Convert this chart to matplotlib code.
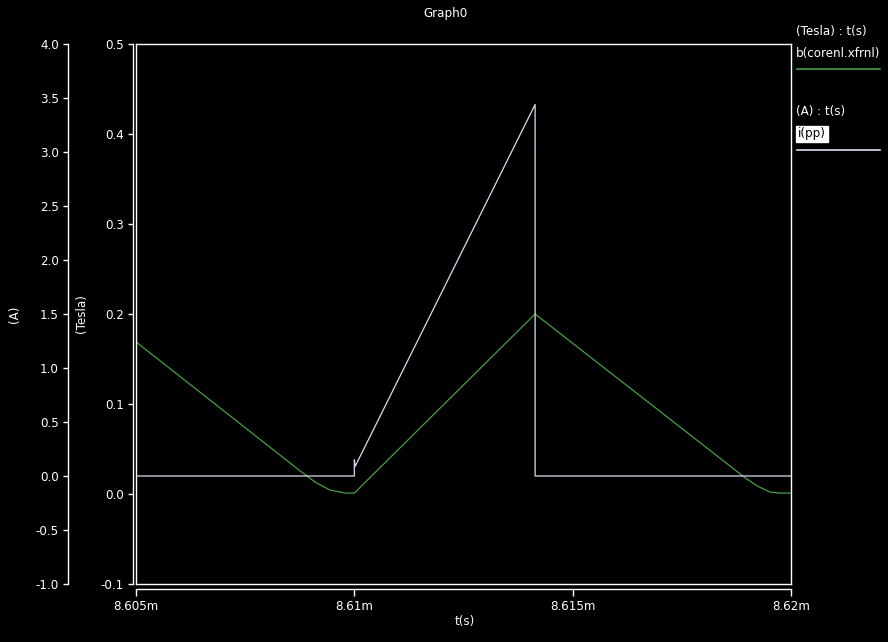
import matplotlib
matplotlib.use("Agg")
import matplotlib.pyplot as plt
from matplotlib.lines import Line2D

plt.rcParams['font.family'] = ['DejaVu Sans']

# ---- data (t in ms) ----
b_t = [8.605, 8.60876, 8.6091, 8.60944, 8.60979, 8.610, 8.61414,
       8.61895, 8.61924, 8.61952, 8.61975, 8.620]
b_v = [0.169, 0.0256, 0.0133, 0.0044, 0.001, 0.001, 0.200,
       0.018, 0.0085, 0.0022, 0.001, 0.001]

i_t = [8.605, 8.610, 8.610, 8.61002, 8.61414, 8.61414, 8.620]
i_v = [0.0, 0.0, 0.15, 0.09, 3.44, 0.0, 0.0]

x_ticks = [8.605, 8.61, 8.615, 8.62]
x_ticklabels = ["8.605m", "8.61m", "8.615m", "8.62m"]
tesla_ticks = [-0.1, 0.0, 0.1, 0.2, 0.3, 0.4, 0.5]
amp_ticks = [-1.0, -0.5, 0.0, 0.5, 1.0, 1.5, 2.0, 2.5, 3.0, 3.5, 4.0]

W, H = 888, 642
fig = plt.figure(figsize=(W / 100, H / 100), dpi=100, facecolor='black')

pos = [136 / W, (H - 584) / H, 655 / W, 540 / H]
FS = 8.6
WHITE = 'white'
GREEN = '#44a044'
ILINE = '#dcdcf0'
px = 72 / 100  # points per pixel
LW = 1.0

# main box axis (Tesla data)
ax = fig.add_axes(pos, facecolor='black')
ax.set_xlim(8.605, 8.62)
ax.set_ylim(-0.1, 0.5)
for s in ax.spines.values():
    s.set_color(WHITE)
    s.set_linewidth(LW)
ax.set_xticks([])
ax.set_yticks([])
ax.plot(b_t, b_v, color=GREEN, lw=0.9)

# current data
axi = fig.add_axes(pos, facecolor='none')
axi.set_xlim(8.605, 8.62)
axi.set_ylim(-1.0, 4.0)
axi.axis('off')
axi.plot(i_t, i_v, color=ILINE, lw=0.9)

def tick_axis(ylim, ticks, offset_px):
    a = fig.add_axes(pos, facecolor='none')
    a.set_ylim(*ylim)
    a.set_xticks([])
    for k in ['top', 'right', 'bottom']:
        a.spines[k].set_visible(False)
    a.spines['left'].set_position(('outward', offset_px * px))
    a.spines['left'].set_color(WHITE)
    a.spines['left'].set_linewidth(LW)
    a.set_yticks(ticks)
    a.set_yticklabels([f"{t:.1f}" for t in ticks])
    a.tick_params(axis='y', colors=WHITE, direction='out', length=5 * px,
                  width=LW, pad=3, labelsize=FS)
    a.patch.set_alpha(0)
    return a

tick_axis((-0.1, 0.5), tesla_ticks, 3)
tick_axis((-1.0, 4.0), amp_ticks, 68)

# x axis
ax_x = fig.add_axes(pos, facecolor='none')
ax_x.set_xlim(8.605, 8.62)
ax_x.set_yticks([])
for k in ['top', 'right', 'left']:
    ax_x.spines[k].set_visible(False)
ax_x.spines['bottom'].set_position(('outward', 5 * px))
ax_x.spines['bottom'].set_color(WHITE)
ax_x.spines['bottom'].set_linewidth(LW)
ax_x.set_xticks(x_ticks)
ax_x.set_xticklabels(x_ticklabels)
ax_x.tick_params(axis='x', colors=WHITE, direction='out', length=7 * px,
                 width=LW, pad=3, labelsize=FS)

# texts
def ftext(x, y, s, **kw):
    fig.text(x / W, 1 - y / H, s, color=kw.pop('color', WHITE), fontsize=kw.pop('fontsize', FS),
             **kw)

ftext(445, 14, "Graph0", ha='center', va='center')
ftext(465, 622, "t(s)", ha='center', va='center')
ftext(14, 314, "(A)", ha='center', va='center', rotation=90)
ftext(81, 314, "(Tesla)", ha='center', va='center', rotation=90)

ftext(796, 31, "(Tesla) : t(s)", ha='left', va='center')
ftext(796, 53, "b(corenl.xfrnl)", ha='left', va='center')
ftext(796, 112, "(A) : t(s)", ha='left', va='center')
ftext(798, 134, "i(pp)", ha='left', va='center', color='black',
      bbox=dict(facecolor='white', edgecolor='white', boxstyle='square,pad=0.15'))

fig.add_artist(Line2D([797 / W, 880 / W], [1 - 69 / H, 1 - 69 / H], color=GREEN, lw=1.2))
fig.add_artist(Line2D([797 / W, 880 / W], [1 - 150 / H, 1 - 150 / H], color=ILINE, lw=1.2))

fig.savefig("out.png", dpi=100, facecolor='black')
